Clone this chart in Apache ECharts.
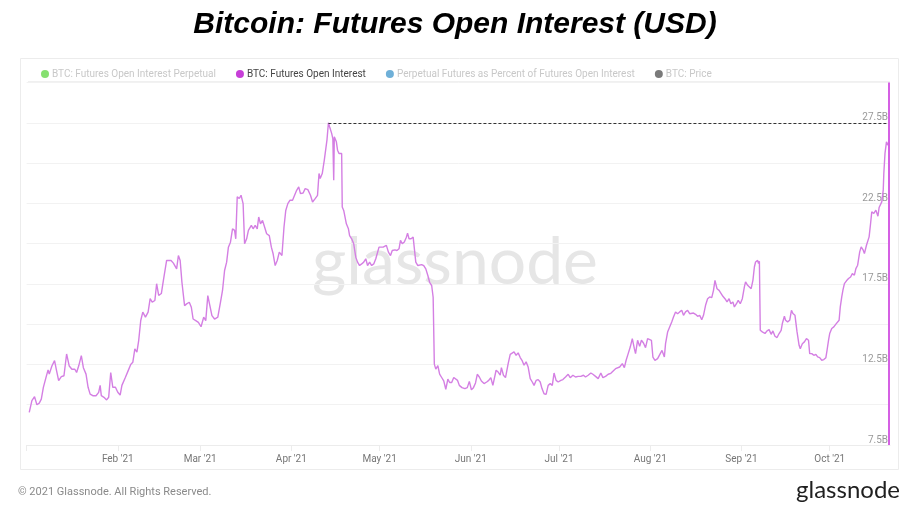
<!DOCTYPE html>
<html>
<head>
<meta charset="utf-8">
<script src="https://cdn.jsdelivr.net/npm/echarts@6/dist/echarts.min.js"></script>
<style>
html,body{margin:0;padding:0;background:#fff;}
#chart{width:910px;height:506px;}
</style>
</head>
<body>
<div id="chart"></div>
<script>
// Days since 2021-01-01 (UTC) for each reading
const dayOffset = [
0.9,1.8,2.7,3.1,3.5,4.3,5.0,5.7,6.6,7.3,7.7,8.6,9.5,10.2,10.9,11.8,12.7,13.6,14.5,15.4,16.4,17.0,17.7,18.6,19.3,20.2,20.9,21.6,22.5,23.6,24.5,25.0,25.4,26.3,27.2,27.9,28.6,29.3,30.2,31.0,31.8,32.4,33.6,34.5,35.4,36.1,36.8,37.5,38.1,38.8,39.5,40.4,41.3,42.0,42.7,43.6,44.2,44.9,45.8,46.5,47.6,
48.0,49.1,49.9,51.0,51.6,52.2,52.8,53.7,54.4,55.3,56.0,56.6,57.5,58.4,59.3,60.2,60.9,61.6,62.3,63.0,63.9,65.0,65.9,66.6,67.3,68.0,68.6,69.3,70.0,70.7,71.1,71.6,72.3,72.9,73.6,74.1,74.8,75.4,76.4,77.0,77.7,78.4,78.9,79.5,80.2,80.9,81.6,82.5,83.2,83.8,84.5,85.2,85.9,86.8,87.5,88.1,88.8,89.5,90.4,91.1,91.8,92.5,93.1,94.0,94.7,95.6,96.5,
97.2,98.1,98.9,99.4,99.8,100.5,101.2,101.6,102.1,102.6,103.0,103.7,104.1,104.4,104.6,105.3,105.7,106.2,106.6,107.1,107.3,107.8,108.7,109.4,109.8,110.5,111.2,111.9,112.5,113.2,113.9,114.6,115.3,115.9,116.6,117.3,118.0,118.7,119.3,119.8,120.5,121.2,121.8,122.3,123.0,123.7,124.3,125.2,125.9,126.6,127.1,127.7,128.4,129.1,129.5,130.0,130.7,131.4,131.8,132.3,133.0,133.6,134.3,135.0,135.7,136.4,137.0,137.7,138.2,138.6,139.1,139.8,140.4,141.1,141.8,142.5,143.2,143.8,144.5,145.2,
145.8,146.5,147.1,148.0,149.0,149.8,150.5,151.2,151.9,152.6,153.2,153.9,154.6,155.5,156.4,157.1,157.8,158.5,158.9,159.6,160.3,161.0,161.4,162.1,162.8,163.7,164.4,165.0,165.7,166.4,167.1,167.8,168.4,169.1,169.8,170.5,171.2,171.9,172.5,173.2,173.9,174.6,175.2,175.9,176.6,177.3,178.0,178.7,179.3,180.0,180.7,181.6,182.3,183.2,184.1,184.8,185.7,186.6,187.5,188.4,189.3,190.0,190.9,191.8,192.5,193.4,194.3,195.2,195.9,196.8,197.7,198.6,199.4,
200.2,201.6,202.5,203.2,203.8,204.5,205.2,205.9,206.6,207.0,207.7,208.4,209.0,209.7,210.4,211.1,211.7,212.4,212.9,213.6,214.5,215.4,216.0,216.8,217.2,217.9,218.6,219.3,219.9,220.6,221.3,222.0,222.7,223.3,224.0,224.7,225.4,226.0,226.7,227.4,228.1,228.8,229.5,230.1,230.8,231.5,232.2,232.9,233.5,234.0,234.7,235.4,236.0,236.7,237.4,238.1,238.8,239.4,240.1,240.6,241.3,241.9,242.6,243.3,244.0,244.4,245.1,245.6,246.3,246.9,247.4,247.8,248.5,248.8,249.1,249.4,
250.1,251.0,251.7,252.4,253.1,253.7,254.4,255.1,255.8,256.5,256.9,257.6,258.0,258.7,259.4,260.0,260.5,261.2,261.9,262.6,263.0,263.7,264.4,265.1,265.8,266.2,266.9,267.6,268.3,268.9,269.6,270.3,271.0,271.7,272.1,272.6,273.0,273.7,274.4,275.1,275.7,276.2,276.6,277.1,277.5,278.0,278.7,279.4,280.1,280.7,281.4,281.9,282.5,283.2,283.7,284.4,284.8,285.5,286.0,286.4,286.9,287.3,288.0,288.7,289.4,289.8,290.3,290.7,291.2,291.4,291.8,292.3,292.8,293.2
];
// BTC Futures Open Interest, billions USD
const openInterest = [
9.52,10.25,10.5,10.56,10.0,10.1,10.35,11.08,11.7,12.16,11.9,12.4,12.74,12.1,11.5,11.74,11.8,13.15,12.4,12.2,12.2,12.0,12.4,13.05,12.3,11.9,11.08,10.66,10.56,10.56,10.77,11.2,10.56,10.46,10.3,10.46,12.0,11.08,11.08,10.77,10.6,11.2,11.7,12.1,12.5,12.63,13.46,13.26,13.98,15.23,15.75,15.44,15.75,16.58,16.37,16.47,17.51,16.78,16.9,17.72,18.96,
18.85,18.95,18.79,18.43,19.26,18.95,17.6,16.15,16.26,16.36,16.05,15.32,15.22,15.11,14.84,15.43,15.22,16.77,16.15,15.53,15.32,15.43,16.36,17.09,18.33,18.85,19.78,20.09,20.92,20.82,20.3,22.9,22.8,23.0,22.48,19.99,20.3,20.82,21.13,20.92,21.13,20.92,21.65,21.23,21.44,21.03,20.61,20.5,19.78,19.37,18.64,18.95,19.47,19.26,21.03,22.06,22.48,22.69,22.69,23.0,23.31,23.52,23.1,23.14,23.41,23.35,23.0,
22.58,22.79,23.0,24.35,24.04,24.35,25.18,25.28,26.42,27.5,27.25,26.84,26.52,23.93,26.63,26.32,25.8,25.59,25.7,25.59,22.27,22.06,21.23,20.92,20.5,20.3,19.99,19.16,18.85,18.64,18.74,18.85,19.06,18.64,18.85,18.64,18.74,19.06,19.16,19.78,19.78,19.78,19.68,19.89,19.47,19.26,19.57,19.61,19.57,19.68,20.2,19.99,20.1,20.4,20.65,20.3,20.3,20.4,20.3,18.85,18.64,18.54,18.7,18.64,18.43,18.02,17.6,17.4,16.67,12.52,12.21,12.42,11.9,11.69,11.48,10.96,11.59,11.38,11.38,11.69,
11.72,11.51,11.2,11.06,11.0,11.06,11.45,10.93,11.06,11.35,11.89,11.72,11.47,11.31,11.41,11.51,11.68,11.2,11.1,12.14,12.03,11.83,12.3,11.83,11.68,12.55,13.13,13.22,13.28,13.07,13.22,12.93,12.76,12.45,12.66,12.34,11.62,11.41,11.2,11.51,11.56,11.41,11.0,10.68,10.64,11.2,11.31,11.2,11.97,11.51,11.41,11.51,11.56,11.72,11.89,11.68,11.83,11.72,11.76,11.76,11.83,11.72,11.83,11.97,11.89,11.76,11.62,11.97,11.68,11.76,11.89,11.95,12.1,
12.24,12.34,12.55,12.3,12.76,13.17,13.58,14.1,13.48,13.17,14.0,13.62,14.0,13.83,13.54,14.1,14.0,14.0,12.96,12.75,12.86,13.17,13.37,12.96,13.79,14.51,14.82,15.13,15.44,15.76,15.65,15.76,15.86,15.55,15.76,15.86,15.65,15.61,15.69,15.61,15.49,15.55,15.28,15.55,16.17,16.58,16.69,16.65,17.1,17.72,17.2,17.1,17.0,16.73,16.58,16.38,16.58,16.27,16.38,16.07,16.27,16.48,16.27,16.58,17.31,17.62,17.41,17.52,17.2,17.72,18.55,18.86,18.96,18.76,18.9,14.62,
14.52,14.42,14.58,14.66,14.37,14.58,14.25,14.17,14.42,14.62,15.04,15.49,15.24,15.14,15.24,15.86,15.66,15.55,14.52,13.69,13.48,13.79,13.9,14.1,14.0,13.17,13.17,13.07,13.13,12.97,12.92,12.76,12.8,12.92,13.38,14.0,14.42,14.73,14.83,15.0,15.0,15.24,16.07,16.69,17.11,17.52,17.69,17.83,17.93,18.14,18.04,18.45,18.66,19.49,19.8,19.59,19.38,19.9,20.0,20.42,21.25,21.97,21.87,22.08,21.7,22.24,22.32,22.59,23.32,24.35,25.6,26.32,26.22,26.0
];
const legendNames = [
  'BTC: Futures Open Interest Perpetual',
  'BTC: Futures Open Interest',
  'Perpetual Futures as Percent of Futures Open Interest',
  'BTC: Price'
];
const legendColors = ['#86e070', '#c73fd8', '#6fb0d8', '#7a7a7a'];
const monthNames = ['Jan','Feb','Mar','Apr','May','Jun','Jul','Aug','Sep','Oct','Nov','Dec'];
const yTicks = [7.5, 12.5, 17.5, 22.5, 27.5];

const DAY = 86400000;
const base = Date.UTC(2021, 0, 1);
const seriesData = dayOffset.map((d, i) => [base + d * DAY, openInterest[i]]);
let peakIdx = 0;
openInterest.forEach((v, i) => { if (v > openInterest[peakIdx]) peakIdx = i; });
const peakPoint = seriesData[peakIdx];
const lastTs = seriesData[seriesData.length - 1][0];
const xMax = base + 293.5 * DAY;

const chart = echarts.init(document.getElementById('chart'), null, {renderer: 'canvas'});
const option = {
  backgroundColor: '#ffffff',
  animation: false,
  title: {
    text: 'Bitcoin: Futures Open Interest (USD)',
    left: 'center', top: 5,
    textStyle: {fontFamily: 'Liberation Sans', fontSize: 30, fontWeight: 'bold', fontStyle: 'italic', color: '#000'}
  },
  legend: {
    left: 36, top: 64,
    icon: 'circle', itemWidth: 8, itemHeight: 8, itemGap: 20,
    textStyle: {fontFamily: 'Roboto', fontSize: 10, padding: [0, 0, 0, -2]},
    data: legendNames.map((n, i) => ({name: n, textStyle: {color: i === 1 ? '#444' : '#c8c8c8'}})),
    selectedMode: false
  },
  graphic: [
    {type: 'rect', z: -10, shape: {x: 20.5, y: 58.5, width: 878, height: 411}, style: {fill: 'none', stroke: '#ececec', lineWidth: 1}},
    {type: 'line', z: -10, shape: {x1: 28, y1: 81.5, x2: 890, y2: 81.5}, style: {stroke: '#f0f0f0', lineWidth: 1}},
    {type: 'text', z: -5, left: 'center', top: 230, style: {text: 'glassnode', fontFamily: 'Lato', fontSize: 66, fill: '#e6e6e6'}},
    {type: 'text', left: 18, top: 487, style: {text: '\u00a9 2021 Glassnode. All Rights Reserved.', fontFamily: 'Roboto', fontSize: 11, fill: '#8a8a8a'}},
    {type: 'text', right: 10, top: 478, style: {text: 'glassnode', fontFamily: 'Lato', fontSize: 24, fill: '#1f1f1f'}}
  ],
  grid: {left: 26.6, right: 20, top: 82.5, bottom: 61, containLabel: false},
  xAxis: {
    type: 'time', min: base, max: xMax,
    minInterval: 28 * DAY, maxInterval: 31 * DAY,
    axisLine: {lineStyle: {color: '#ececec'}},
    axisTick: {show: true, length: 6, lineStyle: {color: '#ececec'}},
    splitLine: {show: false},
    axisLabel: {
      color: '#777', fontFamily: 'Roboto', fontSize: 10, margin: 9,
      showMinLabel: false, showMaxLabel: false,
      formatter: function (v) { const d = new Date(v); const m = d.getUTCMonth(); return m === 0 ? '' : monthNames[m] + " '21"; }
    }
  },
  yAxis: {
    type: 'value', position: 'right', min: 7.5, max: 30, interval: 2.5,
    axisLine: {show: false}, axisTick: {show: false},
    splitLine: {lineStyle: {color: '#f2f2f2'}},
    axisLabel: {
      inside: true, margin: 2, verticalAlign: 'bottom', color: '#999', fontFamily: 'Roboto', fontSize: 10,
      formatter: function (v) { return yTicks.indexOf(v) >= 0 ? v.toFixed(1) + 'B' : ''; }
    }
  },
  series: [
    {name: legendNames[0], type: 'line', data: [], itemStyle: {color: legendColors[0]}},
    {
      name: legendNames[1], type: 'line', data: seriesData, showSymbol: false, symbol: 'none',
      itemStyle: {color: legendColors[1]},
      lineStyle: {color: '#d47fe3', width: 1.4},
      markLine: {
        silent: true, symbol: 'none', label: {show: false},
        data: [
          [{coord: peakPoint, lineStyle: {color: '#333', type: [3, 2], width: 1}}, {coord: [xMax, peakPoint[1]]}],
          {xAxis: lastTs, lineStyle: {color: '#d560e4', type: 'solid', width: 2}}
        ]
      }
    },
    {name: legendNames[2], type: 'line', data: [], itemStyle: {color: legendColors[2]}},
    {name: legendNames[3], type: 'line', data: [], itemStyle: {color: legendColors[3]}}
  ]
};
chart.setOption(option);
</script>
</body>
</html>
